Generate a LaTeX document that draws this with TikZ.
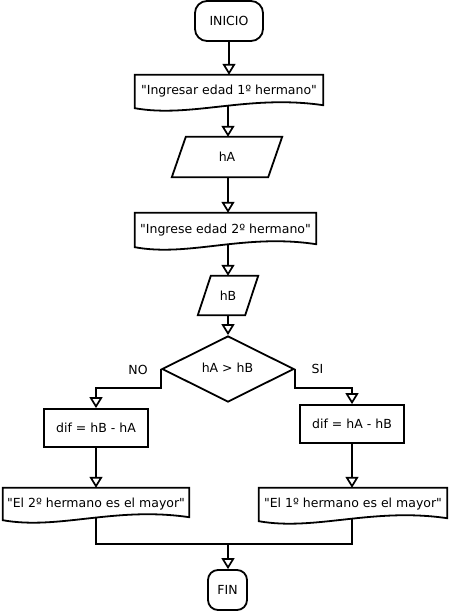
\documentclass[tikz,border=0pt]{standalone}
\usepackage{fontspec}
\setmainfont{DejaVu Sans}[Ligatures=TeXOff]
\usetikzlibrary{calc,arrows.meta,shapes.geometric}
\tikzset{
  shp/.style={line width=1.8pt, line join=miter},
  txt/.style={font=\fontsize{12.5}{15}\selectfont, inner sep=0pt},
  box/.style={txt, draw=none, minimum width=#1},
  arr/.style={line width=1.8pt, -{Triangle[open, length=11pt, width=13pt, line width=1.7pt]}},
  ln/.style={line width=1.8pt},
}
\newcommand\docshape[1]{%
  \draw[shp] let \p1=(#1.south west), \p2=(#1.north east), \n1={\x2-\x1} in
   (\x1,\y1) -- (\x1,\y2) -- (\x2,\y2) -- (\x2,\y1+3pt)
   .. controls (\x1+0.6*\n1,\y1+14pt) and (\x1+0.3*\n1,\y1-10pt) .. (\x1,\y1) -- cycle;}
\newcommand\paraShape[2]{%
  \draw[shp] ($(#1.north west)+(#2,0)$) -- ($(#1.north east)+(#2,0)$)
   -- ($(#1.south east)+(-#2,0)$) -- ($(#1.south west)+(-#2,0)$) -- cycle;}
\begin{document}
\begin{tikzpicture}[x=1pt,y=-1pt]
\useasboundingbox (0,0) rectangle (448,611);
% terminals
\node[txt, draw, shp, rounded corners=12pt, minimum width=68pt, minimum height=40pt] (ini) at (229,21) {INICIO};
\node[txt, draw, shp, rounded corners=10pt, minimum width=39pt, minimum height=40pt] (fin) at (227.5,590) {FIN};
% documents
\node[box=188pt, minimum height=33pt] (d1) at (229,91.5) {"Ingresar edad 1º hermano"};
\node[box=181pt, minimum height=34pt] (d2) at (225.5,230) {"Ingrese edad 2º hermano"};
\node[box=186pt, minimum height=32pt] (d3) at (96,504) {"El 2º hermano es el mayor"};
\node[box=188pt, minimum height=33pt] (d4) at (353,504.5) {"El 1º hermano es el mayor"};
\docshape{d1}\docshape{d2}\docshape{d3}\docshape{d4}
% inputs
\node[box=96pt, minimum height=40pt] (hA) at (227,157) {hA};
\node[box=47pt, minimum height=39pt] (hB) at (228,295.5) {hB};
\paraShape{hA}{7}\paraShape{hB}{6.5}
% decision
\node[txt, draw, shp, diamond, aspect=2, minimum width=132pt, minimum height=66pt] (dia) at (228,369) {};
\node[txt] (diat) at (227.5,368) {hA > hB};
\node[txt] (no) at (138,370) {NO};
\node[txt] (si) at (317.5,369) {SI};
% processes
\node[txt, draw, shp, minimum width=104pt, minimum height=38pt] (bl) at (96,428) {dif = hB - hA};
\node[txt, draw, shp, minimum width=104pt, minimum height=38pt] (br) at (352,424) {dif = hA - hB};
\coordinate (m) at (228,544);
% connectors
\draw[arr] (ini.south) -- (ini.south |- d1.north);
\draw[arr] ($(hA.north |- d1.south)+(1,-2)$) -- ($(hA.north)+(1,0)$);
\draw[arr] ($(hA.south)+(1,0)$) -- ($(hA.south |- d2.north)+(1,0)$);
\draw[arr] ($(hB.north |- d2.south)+(0,-2)$) -- (hB.north);
\draw[arr] (hB.south) -- (hB.south |- dia.north);
\draw[arr] (dia.west) -- ++(0,19) -| (bl.north);
\draw[arr] (dia.east) -- ++(0,19) -| (br.north);
\draw[arr] (bl.south) -- (bl.south |- d3.north);
\draw[arr] (br.south) -- (br.south |- d4.north);
\draw[ln] ($(d3.south)+(0,-2)$) |- (m) -| ($(br.south |- d4.south)+(0,-2)$);
\draw[arr] (m) -- (m |- fin.north);
\end{tikzpicture}
\end{document}
